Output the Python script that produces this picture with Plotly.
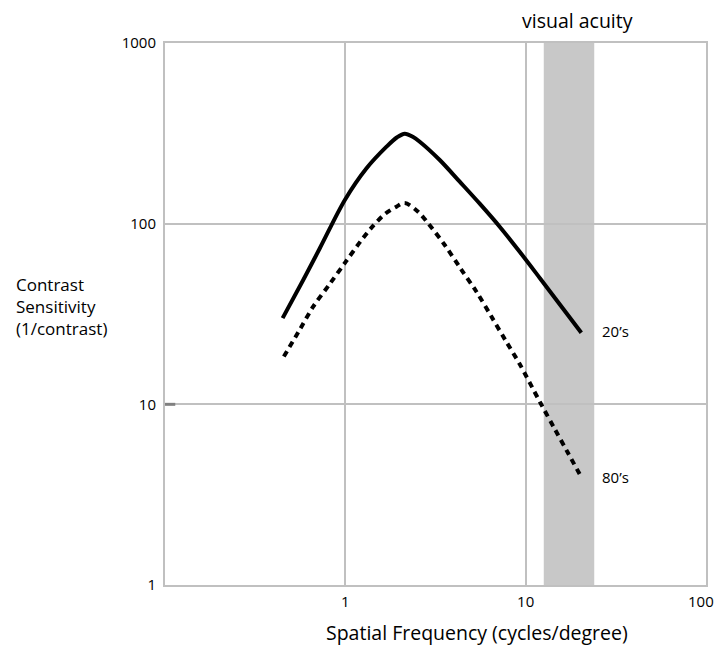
import math
import plotly.graph_objects as go

# Contrast sensitivity functions (spatial frequency in cycles/degree)
freq_20s = [0.449, 0.584, 0.722, 0.994, 1.311, 1.692, 1.929, 2.136, 2.366, 2.586, 3.338,
            4.308, 5.563, 7.178, 9.265, 12.0, 20.35]
sens_20s = [30.0, 48.8, 73.1, 135.3, 202.6, 266.8, 300, 315, 303, 284.3, 225.2,
            170.8, 129, 96.2, 69.9, 49.9, 24.9]

freq_80s = [0.456, 0.560, 0.663, 0.821, 1.006, 1.230, 1.397, 1.655, 1.921, 2.136, 2.531,
            2.875, 3.558, 4.347, 5.333, 6.457, 7.749, 9.265, 12.06, 14.48, 17.15, 20.17]
sens_80s = [18.4, 26.0, 34.7, 46.5, 61.6, 81.2, 95.0, 113.0, 124.2, 130.2, 116.5,
            100.5, 76.2, 56.6, 42.0, 30.6, 22.5, 16.7, 10.2, 7.32, 5.39, 4.02]

# Visual acuity band limits (cycles/degree)
acuity_band = [12.6, 24.0]

x_ticks = [1, 10, 100]
x_tick_text = ["1", "10", "100"]
y_ticks = [1, 10, 100, 1000]
y_tick_text = ["1", "10", "100", "1000"]

FONT = "Open Sans"
GRID = "#c0c0c0"
TICK_SIZE = 15

fig = go.Figure()

fig.add_trace(go.Scatter(
    x=freq_20s, y=sens_20s, mode="lines",
    line=dict(color="black", width=4, shape="spline", smoothing=0.9),
    showlegend=False, hoverinfo="skip",
))
fig.add_trace(go.Scatter(
    x=freq_80s, y=sens_80s, mode="lines",
    line=dict(color="black", width=4, shape="spline", smoothing=0.9, dash="6px,5px"),
    showlegend=False, hoverinfo="skip",
))

# Acuity band between the grid and the curves
fig.add_shape(
    type="rect", xref="x", yref="paper",
    x0=acuity_band[0], x1=acuity_band[1], y0=0, y1=1,
    fillcolor="rgba(128,128,128,0.43)", line=dict(width=0), layer="between",
)
# Short darker mark at the 10 level on the left edge
fig.add_shape(
    type="line", xref="x", yref="y",
    x0=0.1, x1=0.114, y0=10, y1=10,
    line=dict(color="#808080", width=3), layer="above",
)

W, H = 717, 646
L, R, T, B = 165, 11, 43, 61


def px(xp, yp):
    """Convert page pixels to paper coordinates."""
    pw, ph = W - L - R, H - T - B
    return (xp - L) / pw, 1 - (yp - T) / ph


annos = [
    ("visual acuity", 577, 20, 19.5, "center"),
    ("20’s", 600, 331, 15, "left"),
    ("80’s", 600, 477, 15, "left"),
    ("Spatial Frequency (cycles/degree)", 477, 632, 19.5, "center"),
]
for text, xp, yp, size, align in annos:
    ax_, ay_ = px(xp, yp)
    fig.add_annotation(
        x=ax_, y=ay_, xref="paper", yref="paper", text=text, showarrow=False,
        xanchor=align, yanchor="middle", font=dict(family=FONT, size=size, color="black"),
    )

ax_, ay_ = px(14, 306)
fig.add_annotation(
    x=ax_, y=ay_, xref="paper", yref="paper",
    text="Contrast<br>Sensitivity<br>(1/contrast)", showarrow=False, align="left",
    xanchor="left", yanchor="middle", font=dict(family=FONT, size=17, color="black"),
)

# The last x tick label sits at the right edge; nudge it inward so it stays on the page
fig.add_annotation(
    x=math.log10(x_ticks[-1]), y=0, xref="x", yref="paper",
    text=x_tick_text[-1], showarrow=False, xanchor="center", yanchor="top",
    xshift=-5, yshift=-4, font=dict(family=FONT, size=TICK_SIZE, color="black"),
)

fig.update_xaxes(
    type="log", range=[-1, 2], tickvals=x_ticks[:-1], ticktext=x_tick_text[:-1],
    showgrid=True, gridcolor=GRID, gridwidth=2,
    showline=True, linecolor=GRID, linewidth=2, mirror=True,
    ticks="", ticklabelstandoff=2, zeroline=False, automargin=False,
    tickfont=dict(family=FONT, size=TICK_SIZE, color="black"),
)
fig.update_yaxes(
    type="log", range=[0, 3], tickvals=y_ticks, ticktext=y_tick_text,
    showgrid=True, gridcolor=GRID, gridwidth=2,
    showline=True, linecolor=GRID, linewidth=2, mirror=True,
    ticks="", ticklabelstandoff=4, zeroline=False, automargin=False,
    tickfont=dict(family=FONT, size=TICK_SIZE, color="black"),
)

fig.update_layout(
    width=W, height=H,
    margin=dict(l=L, r=R, t=T, b=B),
    plot_bgcolor="white", paper_bgcolor="white",
    font=dict(family=FONT),
)

fig.write_html("out.html")
